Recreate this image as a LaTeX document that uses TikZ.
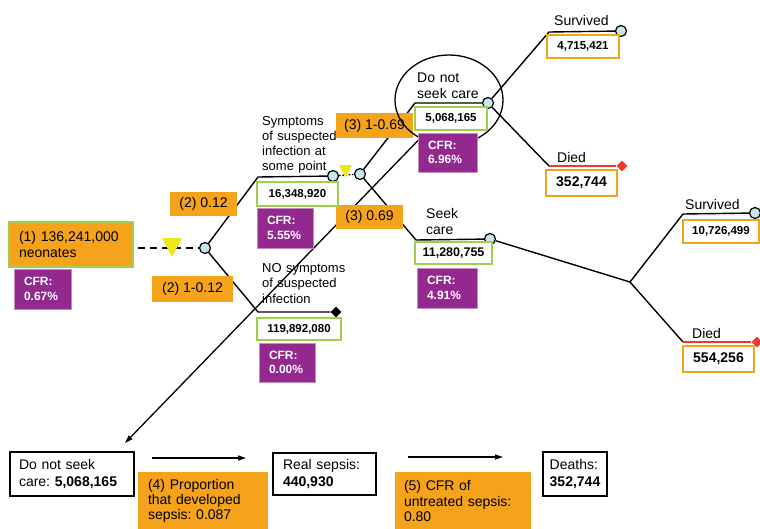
\documentclass[tikz,border=0pt]{standalone}
\usepackage{fontspec}
\setmainfont{Liberation Sans}
\usetikzlibrary{shapes.geometric,arrows.meta}
\definecolor{orng}{HTML}{F6A31C}
\definecolor{grn}{HTML}{A2CF4A}
\definecolor{purp}{HTML}{93288E}
\definecolor{lblue}{HTML}{C9E6EE}
\definecolor{ylw}{HTML}{EEE81A}
\definecolor{redd}{HTML}{EA3B2E}
\frenchspacing
\tikzset{
  tree/.style={line width=1.4pt, black},
  chance/.style={circle, draw=black, line width=1.2pt, fill=lblue, minimum size=11pt, inner sep=0pt},
  endnode/.style={diamond, aspect=1, inner sep=0pt, minimum size=11pt},
  obox/.style={fill=orng, inner sep=0pt, font=\fontsize{14}{16}\selectfont},
  gnum/.style={draw=grn, line width=1.6pt, fill=white, inner sep=0pt, font=\bfseries\fontsize{11.5}{13}\selectfont},
  onum/.style={draw=orng, line width=1.6pt, fill=white, inner sep=0pt},
  cfrbox/.style={fill=purp, draw=purp!55!white, line width=0.8pt, text=white,
    font=\bfseries\fontsize{12}{14.7}\selectfont, align=left, inner ysep=0pt, inner xsep=10pt},
  lbl/.style={anchor=base west, inner sep=0pt, align=left, text width=110pt},
  bbox/.style={draw=black, line width=1.8pt, fill=white, align=left,
    font=\fontsize{14}{16.7}\selectfont, inner ysep=0pt},
  flow/.style={line width=1.3pt, -{Triangle[length=8pt,width=5pt]}}
}
\begin{document}
\begin{tikzpicture}[x=1pt,y=-1pt]
\path[use as bounding box] (0,0) rectangle (760,528);

% chance and end nodes of the tree
\node[chance] (c1) at (205,248) {};
\node[chance] (c2) at (333,176) {};
\node[chance] (c3) at (360,174) {};
\node[chance] (c4) at (488,103) {};
\node[chance] (c5) at (490,239) {};
\node[chance] (c6) at (621,31) {};
\node[chance] (c7) at (755,213) {};
\node[endnode, fill=black] (d1) at (336,312) {};
\node[endnode, fill=redd] (r1) at (622,166) {};
\node[endnode, fill=redd] (r2) at (757,342) {};

% elbows where branches turn horizontal
\coordinate (e1) at (258,177);
\coordinate (e2) at (258,312);
\coordinate (e3) at (415,103);
\coordinate (e4) at (416,240);
\coordinate (e5) at (549,32);
\coordinate (e6) at (549,166);
\coordinate (j1) at (630,282);
\coordinate (e7) at (683,214);
\coordinate (e8) at (683,342);

% root entry
\coordinate (root) at (138,248);
\draw[line width=1.3pt, dash pattern=on 7pt off 5pt] (root) -- (c1);
\fill[ylw] (162,238) -- (182,238) -- (172,257) -- cycle;

\draw[tree] (c1) -- (e1) -- (c2);
\draw[tree] (c1) -- (e2) -- (d1);
\draw[line width=1.3pt, dash pattern=on 1.6pt off 1.6pt] (c2) -- (c3);
\fill[ylw] (339,165) -- (352,165) -- (345.5,178) -- cycle;
\draw[tree] (c3) -- (e3) -- (c4);
\draw[tree] (c3) -- (e4) -- (c5);
\draw[tree] (c4) -- (e5) -- (c6);
\draw[tree] (c4) -- (e6);
\draw[tree, redd] (e6) -- (r1);
\draw[tree] (c5) -- (j1) -- (e7) -- (c7);
\draw[tree] (j1) -- (e8);
\draw[tree, redd] (e8) -- (r2);

% ellipse around the untreated group and its arrow down to the sepsis chain
\node[ellipse, minimum width=108pt, minimum height=90pt, inner sep=0pt] (ell) at (449,100) {};
\coordinate (tip) at (125,443);
\draw[flow] (ell.233) -- (tip);

% labels
\node[lbl, font=\fontsize{13}{15}\selectfont] (symtxt) at (262,125) {Symptoms\\of suspected\\infection at\\some point};
\node[lbl, font=\fontsize{13}{15.5}\selectfont] (notxt) at (262,272) {NO symptoms\\of suspected\\infection};
\node[lbl, font=\fontsize{14}{16}\selectfont] (dnsc) at (417,82) {Do not\\seek care};
\node[lbl, font=\fontsize{14}{16}\selectfont] (sc) at (426,218) {Seek\\care};
\node[lbl, font=\fontsize{14}{16}\selectfont] (sv1) at (554,25) {Survived};
\node[lbl, font=\fontsize{14}{16}\selectfont] (di1) at (557,162) {Died};
\node[lbl, font=\fontsize{14}{16}\selectfont] (sv2) at (685,209) {Survived};
\node[lbl, font=\fontsize{14}{16}\selectfont] (di2) at (692,338) {Died};

% probability boxes
\node[obox, draw=grn, line width=1.6pt, align=left, text width=104pt, inner xsep=10pt,
  minimum height=45pt, font=\fontsize{14}{16.5}\selectfont] (n1) at (71,244.5) {(1) 136,241,000\\neonates};
\node[obox, minimum width=67pt, minimum height=24pt] (p2a) at (203.5,204) {(2) 0.12};
\node[obox, minimum width=81pt, minimum height=26pt] (p2b) at (192.5,289) {(2) 1-0.12};
\node[obox, minimum width=77pt, minimum height=25pt] (p3a) at (374.5,125.5) {(3) 1-0.69};
\node[obox, minimum width=67pt, minimum height=24pt] (p3b) at (369.5,217) {(3) 0.69};

% ellipse outline sits over the (3) box
\draw[line width=1.3pt] (ell.center) ellipse [x radius=54, y radius=45];

% population counts
\node[gnum, minimum width=81pt, minimum height=24pt] (g1) at (297.5,194) {16,348,920};
\node[gnum, minimum width=84pt, minimum height=22pt] (g2) at (299,329) {119,892,080};
\node[gnum, minimum width=72pt, minimum height=23pt] (g3) at (451,118.5) {5,068,165};
\node[gnum, minimum width=77pt, minimum height=22pt, font=\bfseries\fontsize{12.5}{14}\selectfont] (g4) at (453.5,253) {11,280,755};
\node[onum, minimum width=72pt, minimum height=23pt, font=\bfseries\fontsize{11.5}{13}\selectfont] (o1) at (583,46.5) {4,715,421};
\node[onum, minimum width=71pt, minimum height=26pt, font=\bfseries\fontsize{14}{16}\selectfont] (o2) at (581.5,183) {352,744};
\node[onum, minimum width=76pt, minimum height=23pt, font=\bfseries\fontsize{11.5}{13}\selectfont] (o3) at (721,231.5) {10,726,499};
\node[onum, minimum width=71pt, minimum height=26pt, font=\bfseries\fontsize{14}{16}\selectfont] (o4) at (718.5,359) {554,256};

% case fatality rates
\node[cfrbox, text width=37pt, minimum height=40pt] (f1) at (42.5,289) {CFR:\\0.67\%};
\node[cfrbox, text width=36pt, minimum height=40pt] (f2) at (285,228) {CFR:\\5.55\%};
\node[cfrbox, text width=36pt, minimum height=39pt] (f3) at (287,362.5) {CFR:\\0.00\%};
\node[cfrbox, text width=39pt, minimum height=39pt] (f4) at (447.5,152.5) {CFR:\\6.96\%};
\node[cfrbox, text width=40pt, minimum height=40pt] (f5) at (447,288) {CFR:\\4.91\%};

% sepsis chain for the group that does not seek care
\node[bbox, text width=106pt, inner xsep=9pt, minimum height=44pt] (b1) at (72,474) {Do not seek\\care: \textbf{5,068,165}};
\node[bbox, text width=83pt, inner xsep=10pt, minimum height=42pt] (b2) at (324.5,474) {Real sepsis:\\\textbf{440,930}};
\node[bbox, inner xsep=7pt, minimum width=64pt, minimum height=44pt] (b3) at (575,474) {Deaths:\\\textbf{352,744}};
\node[obox, align=left, text width=110pt, inner xsep=10pt, minimum height=58pt,
  font=\fontsize{14}{15.3}\selectfont] (q4) at (203,501) {(4) Proportion\\that developed\\sepsis: 0.087};
\node[obox, align=left, text width=118pt, inner xsep=9pt, minimum height=58pt,
  font=\fontsize{14}{15.3}\selectfont] (q5) at (463,501) {(5) CFR of\\untreated sepsis:\\0.80};
\coordinate (a1s) at (152,458);
\coordinate (a1e) at (246,458);
\coordinate (a2s) at (408,457);
\coordinate (a2e) at (503,457);
\draw[flow] (a1s) -- (a1e);
\draw[flow] (a2s) -- (a2e);
\end{tikzpicture}
\end{document}
